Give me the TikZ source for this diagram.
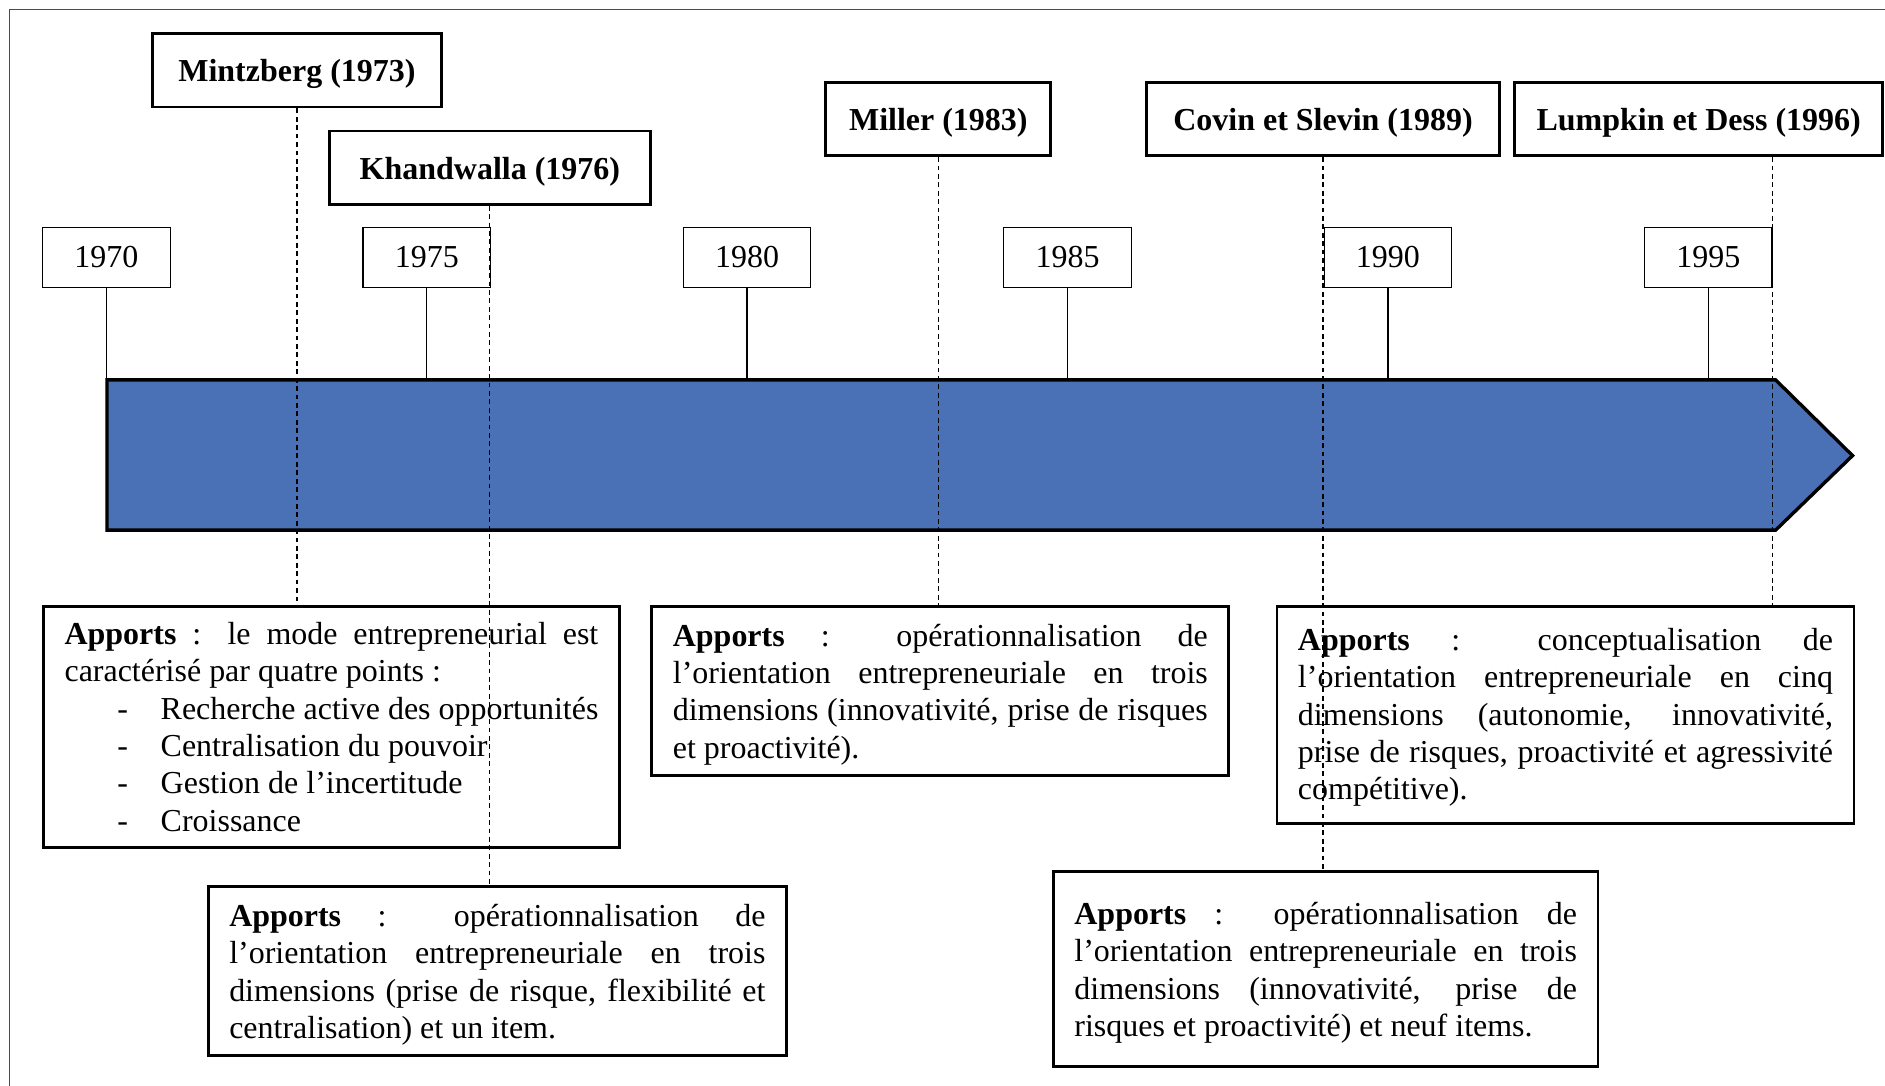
\documentclass[tikz,border=0pt]{standalone}
\usepackage{fontspec}
\setmainfont{Liberation Serif}
\definecolor{barblue}{RGB}{74,112,181}
\newcommand{\tiret}[1]{\par\hspace*{22pt}\makebox[18pt][l]{-}\mbox{#1}}
\hyphenpenalty=10000
\begin{document}
\begin{tikzpicture}[x=0.5pt, y=-0.5pt,
    every node/.style={font=\fontsize{13.3}{15.5}\selectfont},
    yearbox/.style={draw, line width=0.5pt, minimum width=53pt, minimum height=25pt, inner sep=0pt},
    author/.style={draw, line width=1.2pt, minimum height=30.5pt, inner sep=0pt, text height=12.5pt, text depth=3pt, font=\fontsize{13.3}{15.5}\selectfont\bfseries},
    apports/.style={draw, line width=1.2pt, anchor=north west, align=justify, inner xsep=8.75pt, inner ysep=2pt},
    stem/.style={line width=0.6pt},
    dashline/.style={line width=0.5pt, dash pattern=on 2pt off 1.5pt}]
    \useasboundingbox (0,0) rectangle (1568,903);
    \draw[black!70, line width=0.6pt] (1568,8) -- (8,8) -- (8,903);
    \draw[fill=barblue, line width=1.4pt] (89,316) -- (1477,316) -- (1541,379) -- (1477,441) -- (89,441) -- cycle;
    \coordinate (bartop) at (89,316);
    \foreach \yr [count=\i from 0] in {1970,1975,...,1995} {
        \node[yearbox] (y\yr) at (88.5+266.5*\i,214) {\yr};
        \draw[stem] (y\yr.south) -- (y\yr.south |- bartop);
    }
    \node[author, minimum width=120pt] (mintzberg) at (247,58.5) {Mintzberg (1973)};
    \node[author, minimum width=133.5pt] (khandwalla) at (407.5,139.5) {Khandwalla (1976)};
    \node[author, minimum width=93.5pt] (miller) at (780.5,99) {Miller (1983)};
    \node[author, minimum width=146.5pt] (covin) at (1100.5,99) {Covin et Slevin (1989)};
    \node[author, minimum width=153pt] (lumpkin) at (1413,99) {Lumpkin et Dess (1996)};
    \node[apports, text width=222pt, minimum height=100.5pt] (apMintz) at (35,503) {\textbf{Apports} : le mode entrepreneurial est\linebreak caractérisé par quatre points :\tiret{Recherche active des opportunités}\tiret{Centralisation du pouvoir}\tiret{Gestion de l’incertitude}\tiret{Croissance}};
    \node[apports, text width=223pt, minimum height=70.5pt, text height=12.3pt] (apKhand) at (172,736) {\textbf{Apports} : opérationnalisation de\linebreak l’orientation entrepreneuriale en trois\linebreak dimensions (prise de risque, flexibilité et\linebreak centralisation) et un item.};
    \node[apports, text width=222.5pt, minimum height=70.5pt, text height=12.3pt] (apMiller) at (541,503) {\textbf{Apports} : opérationnalisation de\linebreak l’orientation entrepreneuriale en trois\linebreak dimensions (innovativité, prise de risques\linebreak et proactivité).};
    \node[apports, text width=222.5pt, minimum height=90.5pt, text height=11.3pt] (apLumpkin) at (1061,503) {\textbf{Apports} : conceptualisation de\linebreak l’orientation entrepreneuriale en cinq\linebreak dimensions (autonomie, innovativité,\linebreak prise de risques, proactivité et agressivité\linebreak compétitive).};
    \node[apports, text width=209pt, minimum height=81pt, text height=12.3pt] (apCovin) at (875,724) {\textbf{Apports} : opérationnalisation de\linebreak l’orientation entrepreneuriale en trois\linebreak dimensions (innovativité, prise de\linebreak risques et proactivité) et neuf items.};
    \draw[dashline] (mintzberg.south) -- (mintzberg.south |- apMintz.north);
    \draw[dashline] (khandwalla.south) -- (khandwalla.south |- apKhand.north);
    \draw[dashline] (miller.south) -- (miller.south |- apMiller.north);
    \draw[dashline] (covin.south) -- (covin.south |- apCovin.north);
    \draw[dashline] (y1995.east |- lumpkin.south) -- (y1995.east |- apLumpkin.north);
\end{tikzpicture}
\end{document}
